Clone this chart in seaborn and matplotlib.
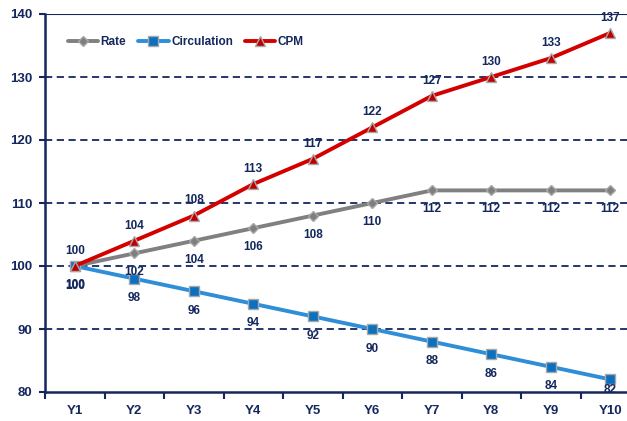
import matplotlib
matplotlib.use("Agg")
import matplotlib.pyplot as plt
import seaborn as sns
import pandas as pd

years = ["Y1", "Y2", "Y3", "Y4", "Y5", "Y6", "Y7", "Y8", "Y9", "Y10"]
rate = [100, 102, 104, 106, 108, 110, 112, 112, 112, 112]
circulation = [100, 98, 96, 94, 92, 90, 88, 86, 84, 82]
cpm = [100, 104, 108, 113, 117, 122, 127, 130, 133, 137]
yticks = [80, 90, 100, 110, 120, 130, 140]

sns.set_theme(style="white")
plt.rcParams["font.family"] = ["Liberation Sans", "DejaVu Sans"]
plt.rcParams["font.weight"] = "bold"

NAVY = "#14285E"

fig = plt.figure(figsize=(6.27, 4.21), dpi=100)
ax = fig.add_axes([45 / 627, 1 - 392 / 421, (640 - 45) / 627, (392 - 14) / 421])

x = list(range(len(years)))
series = [
    ("Rate", rate, "#808080", "#7F7F7F", "D", 5.5, -3.0),
    ("Circulation", circulation, "#2E8FD8", "#0A70C0", "s", 6.5, -3.1),
    ("CPM", cpm, "#D40000", "#C00000", "^", 7, 2.4),
]

for name, vals, lc, mc, mk, ms, off in series:
    df = pd.DataFrame({"x": x, "v": vals})
    sns.lineplot(data=df, x="x", y="v", ax=ax, color=lc, linewidth=2.8,
                 marker=mk, markersize=ms, markerfacecolor=mc,
                 markeredgecolor="#A8A8A8", markeredgewidth=1.0, label=name,
                 zorder=3)
    for xi, v in zip(x, vals):
        ly = max(v + off, 80.3)
        ax.text(xi, ly, f"{v}", ha="center", va="center",
                fontsize=8.5, fontweight="bold", color=NAVY, zorder=5)

ax.set_xlim(-0.5, 9.5)
ax.set_ylim(80, 140)
ax.set_yticks(yticks)
ax.set_xticks(x)
ax.set_xticklabels(years)
ax.set_xlabel("")
ax.set_ylabel("")

for t in yticks[1:-1]:
    ax.axhline(t, color=NAVY, linestyle=(0, (4, 2.5)), linewidth=1.3, zorder=1)
ax.axhline(140, color=NAVY, linewidth=1.5, zorder=1)

for s in ["right", "top"]:
    ax.spines[s].set_visible(False)
for s in ["left", "bottom"]:
    ax.spines[s].set_color(NAVY)
    ax.spines[s].set_linewidth(1.8)
    ax.spines[s].set_zorder(6)

ax.tick_params(axis="x", which="major", length=0, pad=9, labelsize=9.5,
               labelcolor=NAVY)
ax.tick_params(axis="y", which="major", length=4, width=1.5, color=NAVY,
               direction="out", pad=5, labelsize=9.5, labelcolor=NAVY, left=True)
for lbl in ax.get_xticklabels() + ax.get_yticklabels():
    lbl.set_fontweight("bold")

ax.set_xticks([i + 0.5 for i in range(-1, 10)], minor=True)
ax.tick_params(axis="x", which="minor", length=5, width=1.5, color=NAVY,
               direction="out", bottom=True)

leg = ax.legend(loc="upper left", bbox_to_anchor=(0.03, 0.955), ncol=3,
                frameon=False, fontsize=8.5, handlelength=2.6,
                columnspacing=1.0, handletextpad=0.2, borderaxespad=0)
for t in leg.get_texts():
    t.set_color(NAVY)
    t.set_fontweight("bold")

fig.savefig("out.png", dpi=100)
